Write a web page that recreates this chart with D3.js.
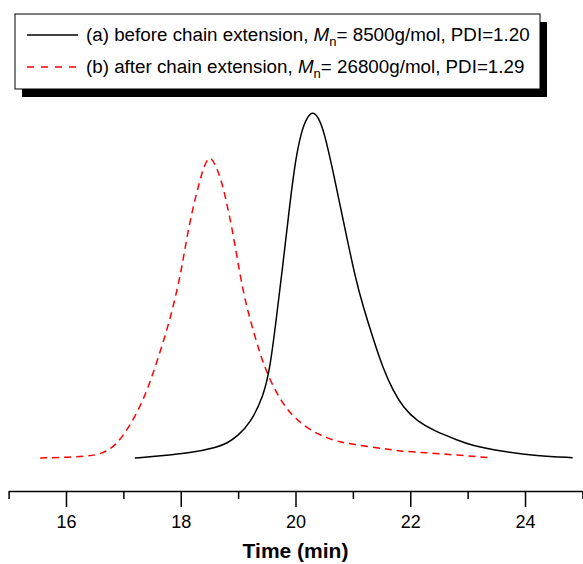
<!DOCTYPE html>
<html><head><meta charset="utf-8">
<script src="https://cdn.jsdelivr.net/npm/d3@7"></script>
<style>html,body{margin:0;padding:0;background:#fff;}svg{display:block;font-family:"Liberation Sans",Arial,sans-serif;}</style>
</head><body>
<svg id="c" width="583" height="564"></svg>
<script>
// Series A: before chain extension (time min, normalized intensity)
const timeA = [17.20,17.64,18.16,18.65,18.80,19.00,19.21,19.44,19.56,19.67,19.79,19.90,20.00,20.10,20.20,20.30,20.40,20.50,20.65,20.83,21.05,21.18,21.36,21.53,21.70,21.88,22.11,22.40,22.87,23.04,23.62,24.20,24.83];
const valA  = [0.000,0.006,0.014,0.032,0.042,0.065,0.101,0.177,0.264,0.409,0.574,0.735,0.865,0.945,0.988,1.005,0.988,0.945,0.835,0.690,0.516,0.439,0.342,0.258,0.195,0.146,0.108,0.080,0.049,0.038,0.018,0.006,0.001];
// Series B: after chain extension
const timeB = [15.55,16.42,16.64,16.86,17.11,17.35,17.52,17.67,17.81,17.93,18.02,18.10,18.19,18.28,18.37,18.45,18.51,18.58,18.71,18.80,18.89,18.98,19.06,19.15,19.26,19.38,19.50,19.73,19.96,20.25,20.54,20.78,21.00,21.30,21.59,21.82,22.11,22.40,23.39];
const valB  = [0.000,0.004,0.014,0.034,0.091,0.168,0.246,0.323,0.400,0.482,0.554,0.632,0.709,0.770,0.828,0.862,0.872,0.860,0.806,0.739,0.670,0.583,0.507,0.438,0.371,0.304,0.246,0.168,0.119,0.081,0.058,0.046,0.040,0.032,0.026,0.020,0.017,0.014,0.001];
const majorTicks = [16,18,20,22,24];
const minorTicks = [15,17,19,21,23,25];
const legendA = {pre:"(a) before chain extension, ", post:"= 8500g/mol, PDI=1.20"};
const legendB = {pre:"(b) after chain extension, ", post:"= 26800g/mol, PDI=1.29"};
const xTitle = "Time (min)";

const svg = d3.select("#c");
const x = d3.scaleLinear().domain([15,25]).range([8.6,582.4]);
const y = d3.scaleLinear().domain([0,1]).range([458,113]);

const line = d3.line().x(d=>x(d[0])).y(d=>y(d[1])).curve(d3.curveBasis);
const dA = timeA.map((t,i)=>[t,valA[i]]);
const dB = timeB.map((t,i)=>[t,valB[i]]);

svg.append("path").attr("d",line(dB)).attr("fill","none").attr("stroke","#ff0000")
  .attr("stroke-width",1.5).attr("stroke-dasharray","7,5");
svg.append("path").attr("d",line(dA)).attr("fill","none").attr("stroke","#000")
  .attr("stroke-width",1.5);

// axis
const axY = 491;
const axMajor = d3.axisBottom(x).tickValues(majorTicks).tickSize(16).tickSizeOuter(0).tickPadding(8).tickFormat(d3.format("d"));
const gA = svg.append("g").attr("transform",`translate(0,${axY})`).call(axMajor);
gA.select(".domain").attr("stroke","#000").attr("stroke-width",1.5);
gA.selectAll(".tick line").attr("stroke","#000").attr("stroke-width",1.5);
gA.selectAll(".tick text").attr("font-size",18).attr("fill","#000").attr("font-family","Liberation Sans, Arial, sans-serif");
const gM = svg.append("g").attr("transform",`translate(0,${axY})`)
  .call(d3.axisBottom(x).tickValues(minorTicks).tickSize(8).tickSizeOuter(0).tickFormat(""));
gM.select(".domain").remove();
gM.selectAll(".tick line").attr("stroke","#000").attr("stroke-width",1.5);

svg.append("text").attr("x",x(20)).attr("y",558).attr("text-anchor","middle")
  .attr("font-size",21).attr("font-weight","bold").text(xTitle);

// legend
const lg = svg.append("g");
lg.append("rect").attr("x",22).attr("y",22).attr("width",525).attr("height",75).attr("fill","#000");
lg.append("rect").attr("x",15).attr("y",14).attr("width",525).attr("height",75).attr("fill","#fff").attr("stroke","#000").attr("stroke-width",1);
const rows = [{lab:legendA, y:35, color:"#000", dash:null},{lab:legendB, y:67, color:"#ff0000", dash:"7,7"}];
rows.forEach(r=>{
  const l = lg.append("line").attr("x1",27).attr("x2",78).attr("y1",r.y).attr("y2",r.y)
    .attr("stroke",r.color).attr("stroke-width",1.5);
  if(r.dash) l.attr("stroke-dasharray",r.dash);
  const t = lg.append("text").attr("x",86).attr("y",r.y+6).attr("font-size",18.8).attr("fill","#000");
  t.append("tspan").text(r.lab.pre);
  t.append("tspan").attr("font-style","italic").text("M");
  t.append("tspan").attr("font-size",13).attr("dy",5).text("n");
  t.append("tspan").attr("dy",-5).text(r.lab.post);
});
</script>
</body></html>
